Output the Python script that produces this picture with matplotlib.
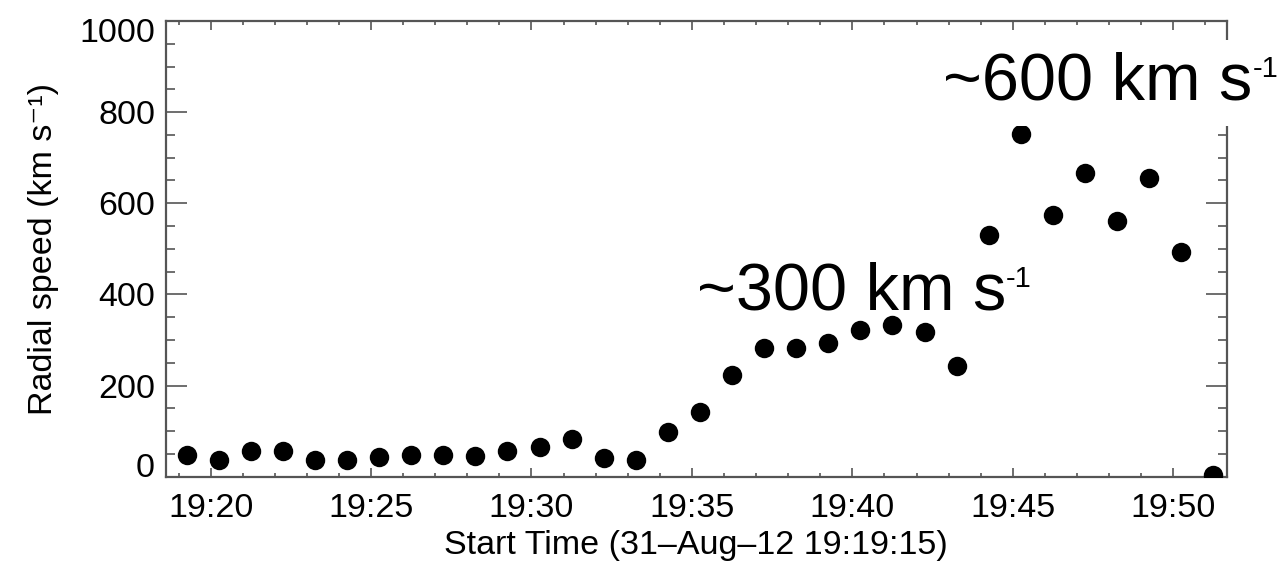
import matplotlib
matplotlib.use("Agg")
import matplotlib.pyplot as plt
from matplotlib.ticker import MultipleLocator
from matplotlib.transforms import ScaledTranslation

# ---- data ----
times = ["19:19:15", "19:20:15", "19:21:15", "19:22:15", "19:23:15", "19:24:15",
         "19:25:15", "19:26:15", "19:27:15", "19:28:15", "19:29:15", "19:30:15",
         "19:31:15", "19:32:15", "19:33:15", "19:34:15", "19:35:15", "19:36:15",
         "19:37:15", "19:38:15", "19:39:15", "19:40:15", "19:41:15", "19:42:15",
         "19:43:15", "19:44:15", "19:45:15", "19:46:15", "19:47:15", "19:48:15",
         "19:49:15", "19:50:15", "19:51:15"]
speeds = [47, 37, 57, 57, 37, 37, 43, 48, 48, 46, 56, 66, 82, 42, 37, 97, 143,
          223, 283, 283, 293, 323, 333, 318, 244, 530, 751, 574, 666, 561, 655,
          494, 3]
xtick_labels = ["19:20", "19:25", "19:30", "19:35", "19:40", "19:45", "19:50"]
ytick_values = [0, 200, 400, 600, 800, 1000]
annot_texts = ["~300 km s", "~600 km s"]
annot_sup = "-1"
annot_times = ["19:35:09", "19:42:50"]
annot_speeds = [366, 827]
xlabel = "Start Time (31\u2013Aug\u201312 19:19:15)"
ylabel = "Radial speed (km s\u207b\u00b9)"


def to_min(s):
    parts = [int(p) for p in s.split(":")]
    h, m = parts[0], parts[1]
    sec = parts[2] if len(parts) > 2 else 0
    return (h - 19) * 60 + m + sec / 60.0


plt.rcParams["font.family"] = ["Liberation Sans", "DejaVu Sans"]

W, H = 1282, 566
fig = plt.figure(figsize=(W / 100, H / 100), dpi=100)
fig.patch.set_facecolor("white")
l, r, t, b = 165.7, 1226.7, 21.0, 476.7
ax = fig.add_axes([l / W, 1 - b / H, (r - l) / W, (b - t) / H])

x = [to_min(s) for s in times]
ax.plot(x, speeds, "o", color="black", ms=14, mec="none", zorder=3)

ax.set_xlim(to_min("19:18:36"), to_min("19:51:40"))
ax.set_ylim(0, 1000)

ax.set_xticks([to_min(s) for s in xtick_labels], xtick_labels)
ax.xaxis.set_minor_locator(MultipleLocator(1))
ax.set_yticks(ytick_values, [str(v) for v in ytick_values])
ax.yaxis.set_minor_locator(MultipleLocator(50))

spine_col = "#555555"
for sp in ax.spines.values():
    sp.set_color(spine_col)
    sp.set_linewidth(1.6)

ax.tick_params(which="both", direction="in", top=True, right=True,
               color=spine_col, labelcolor="black", labelsize=24.5, width=1.2)
ax.tick_params(axis="x", which="major", length=6.5, pad=12)
ax.tick_params(axis="x", which="minor", length=3)
ax.tick_params(axis="y", which="major", length=15, pad=7.7)
ax.tick_params(axis="y", which="minor", length=6.5)

# end labels of the y axis are pulled inward in the reference
ylabs = ax.get_yticklabels()
ylabs[0].set_transform(ylabs[0].get_transform() +
                       ScaledTranslation(0, 12 / 100, fig.dpi_scale_trans))
ylabs[-1].set_transform(ylabs[-1].get_transform() +
                        ScaledTranslation(0, -9 / 100, fig.dpi_scale_trans))

ax.set_xlabel(xlabel, fontsize=24.5)
ax.xaxis.set_label_coords(0.5, -0.117)
ax.set_ylabel(ylabel, fontsize=24.5)
ax.yaxis.set_label_coords(-0.101, 0.5)

big = 48
t1 = ax.text(to_min(annot_times[0]), annot_speeds[0], annot_texts[0],
             fontsize=big, ha="left", va="baseline", zorder=4)
t2 = ax.text(to_min(annot_times[1]), annot_speeds[1], annot_texts[1],
             fontsize=big, ha="left", va="baseline", zorder=4, clip_on=False,
             bbox=dict(boxstyle="square,pad=0.18", fc="white", ec="none"))
for tt in (t1, t2):
    ax.annotate(annot_sup, xy=(1, 1), xycoords=tt, xytext=(0, -2),
                textcoords="offset points", fontsize=21, ha="left", va="top",
                zorder=5, annotation_clip=False)

fig.savefig("out.png", dpi=100, facecolor="white")
